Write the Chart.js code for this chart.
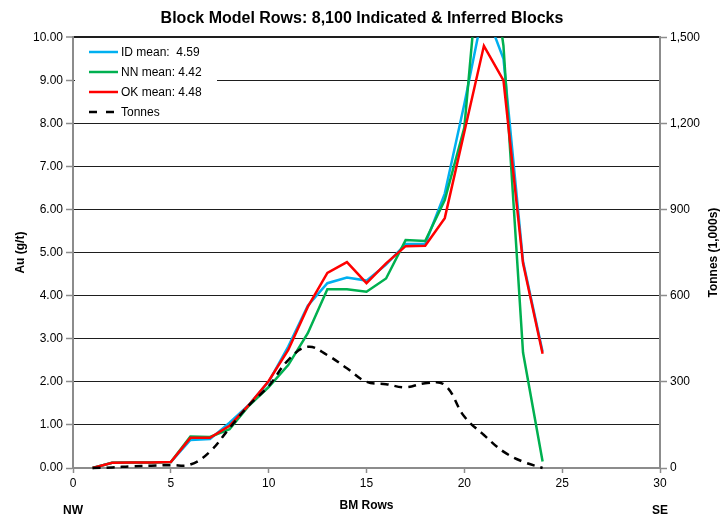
<!DOCTYPE html>
<html>
<head>
<meta charset="utf-8">
<script src="https://cdn.jsdelivr.net/npm/chart.js@4/dist/chart.umd.min.js"></script>
<style>
  html, body { margin: 0; padding: 0; background: #fff; }
  #wrap { width: 724px; height: 519px; position: relative; }
</style>
</head>
<body>
<div id="wrap"><canvas id="chart"></canvas></div>
<script>
// BM row numbers (NW -> SE)
const rows = [1, 2, 3, 4, 5, 6, 7, 8, 9, 10, 11, 12, 13, 14, 15, 16, 17, 18, 19, 20, 21, 22, 23, 24];

// Au grade by row (g/t)
const idMean = [0, 0.12, 0.13, 0.13, 0.14, 0.65, 0.67, 1.05, 1.47, 2.0, 2.82, 3.77, 4.29, 4.42, 4.35, 4.72, 5.2, 5.2, 6.37, 8.45, 10.7, 9.5, 4.8, 2.7];
const nnMean = [0, 0.12, 0.13, 0.13, 0.14, 0.73, 0.72, 0.9, 1.45, 1.88, 2.39, 3.13, 4.15, 4.15, 4.09, 4.4, 5.29, 5.27, 6.22, 7.9, 13.0, 9.8, 2.68, 0.15];
const okMean = [0, 0.12, 0.13, 0.13, 0.14, 0.7, 0.7, 0.98, 1.47, 2.02, 2.74, 3.74, 4.53, 4.78, 4.29, 4.75, 5.15, 5.16, 5.8, 7.8, 9.8, 9.0, 4.75, 2.65];

// tonnes by row (1,000s)
const tonnes = [0, 2, 6, 8, 10, 12, 57, 139, 219, 285, 376, 422, 393, 347, 300, 292, 281, 295, 289, 179, 115, 57, 22, 0];

const seriesNames = ["ID mean:  4.59", "NN mean: 4.42", "OK mean: 4.48", "Tonnes"];
const seriesColors = ["#00B0F0", "#00B050", "#FF0000", "#000000"];

const toXY = (vals) => vals.map((v, i) => ({ x: rows[i], y: v }));

const FONT = "'Liberation Sans', Arial, sans-serif";
const AXIS_GRAY = "#8c8c8c";

// legend box inside the plot, top-left, white background
const legendBox = {
  id: "legendBox",
  afterDatasetsDraw(chart) {
    const ctx = chart.ctx;
    const a = chart.chartArea;
    ctx.save();
    ctx.fillStyle = "#fff";
    ctx.fillRect(a.left + 2, a.top + 2, 142, 83);
    ctx.font = "12px " + FONT;
    ctx.textBaseline = "middle";
    seriesNames.forEach((name, i) => {
      const y = 52 + i * 20;
      ctx.strokeStyle = seriesColors[i];
      ctx.lineWidth = 2.5;
      ctx.setLineDash(i === 3 ? [8, 9] : []);
      ctx.beginPath();
      ctx.moveTo(89, y);
      ctx.lineTo(118, y);
      ctx.stroke();
      ctx.fillStyle = "#000";
      ctx.fillText(name, 121, y + 1);
    });
    ctx.restore();
  }
};

// extra texts: right axis title (bottom-to-top), NW / SE
const extraText = {
  id: "extraText",
  afterDraw(chart) {
    const ctx = chart.ctx;
    const a = chart.chartArea;
    ctx.save();
    ctx.fillStyle = "#000";
    ctx.font = "bold 12px " + FONT;
    ctx.textAlign = "center";
    ctx.textBaseline = "middle";
    ctx.fillText("NW", a.left, 511);
    ctx.fillText("SE", a.right, 511);
    ctx.translate(714, (a.top + a.bottom) / 2);
    ctx.rotate(-Math.PI / 2);
    ctx.fillText("Tonnes (1,000s)", 0, 0);
    ctx.restore();
  }
};

const ctx = document.getElementById("chart").getContext("2d");

new Chart(ctx, {
  type: "line",
  data: {
    datasets: [
      // higher order is drawn first, so OK sits on top of ID like in Excel
      { label: seriesNames[0], data: toXY(idMean), borderColor: seriesColors[0], yAxisID: "y", order: 4 },
      { label: seriesNames[1], data: toXY(nnMean), borderColor: seriesColors[1], yAxisID: "y", order: 3 },
      { label: seriesNames[2], data: toXY(okMean), borderColor: seriesColors[2], yAxisID: "y", order: 2 },
      { label: seriesNames[3], data: toXY(tonnes), borderColor: seriesColors[3], yAxisID: "y2", order: 1, borderDash: [8, 6], tension: 0.4 },
    ],
  },
  options: {
    responsive: true,
    maintainAspectRatio: false,
    animation: false,
    datasets: {
      line: {
        borderWidth: 2.5,
        pointRadius: 0,
        fill: false,
        clip: { left: 5, top: 0, right: 5, bottom: 5 },
      },
    },
    layout: { padding: 0 },
    scales: {
      x: {
        type: "linear",
        min: 0,
        max: 30,
        afterFit: (s) => { s.height = 51; },
        ticks: { stepSize: 5, color: "#000", font: { family: FONT, size: 12 }, padding: 3 },
        grid: { drawOnChartArea: false, tickLength: 5, tickColor: AXIS_GRAY, tickWidth: 1.5 },
        border: { color: AXIS_GRAY, width: 2 },
        title: { display: true, text: "BM Rows", color: "#000", font: { family: FONT, size: 12, weight: "bold" }, padding: { top: 0, bottom: 6 } },
      },
      y: {
        position: "left",
        min: 0,
        max: 10,
        afterFit: (s) => { s.width = 73; },
        ticks: { stepSize: 1, color: "#000", font: { family: FONT, size: 12 }, padding: 3, callback: (v) => v.toFixed(2) },
        grid: {
          color: (c) => (c.tick && c.tick.value === 0 ? "rgba(0,0,0,0)" : "#1e1e1e"),
          lineWidth: (c) => (c.tick && c.tick.value === 10 ? 2 : 1),
          tickLength: 7,
          tickColor: AXIS_GRAY,
          tickWidth: 1.5,
        },
        border: { color: AXIS_GRAY, width: 2 },
        title: { display: true, text: "Au (g/t)", color: "#000", font: { family: FONT, size: 12, weight: "bold" }, padding: { top: 13, bottom: 0 } },
      },
      y2: {
        position: "right",
        min: 0,
        max: 1500,
        afterFit: (s) => { s.width = 64; },
        ticks: { stepSize: 300, color: "#000", font: { family: FONT, size: 12 }, padding: 3, callback: (v) => v.toLocaleString("en-US") },
        grid: { drawOnChartArea: false, tickLength: 7, tickColor: AXIS_GRAY, tickWidth: 1.5 },
        border: { color: AXIS_GRAY, width: 2 },
      },
    },
    plugins: {
      legend: { display: false },
      tooltip: { enabled: false },
      title: {
        display: true,
        text: "Block Model Rows: 8,100 Indicated & Inferred Blocks",
        color: "#000",
        font: { family: FONT, size: 16, weight: "bold" },
        padding: { top: 9, bottom: 9 },
      },
    },
  },
  plugins: [legendBox, extraText],
});
</script>
</body>
</html>
